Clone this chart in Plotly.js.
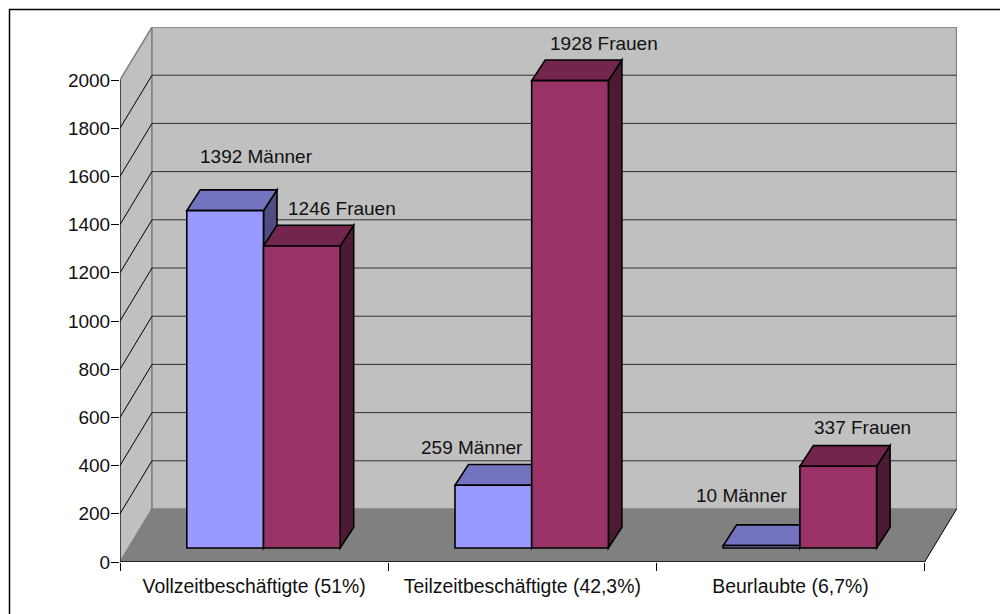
<!DOCTYPE html>
<html><head><meta charset="utf-8">
<script src="https://cdn.plot.ly/plotly-3.0.1.min.js"></script>
<style>html,body{margin:0;padding:0;background:#fff;overflow:hidden}</style></head>
<body><div id="chart" style="width:1000px;height:614px"></div>
<script>
const categories = ["Vollzeitbeschäftigte (51%)", "Teilzeitbeschäftigte (42,3%)", "Beurlaubte (6,7%)"];
const maenner = [1392, 259, 10];
const frauen = [1246, 1928, 337];
const maennerLabel = "Männer";
const frauenLabel = "Frauen";
const yTicks = [0,200,400,600,800,1000,1200,1400,1600,1800,2000];

// view geometry (axis units)
const L=120,R=957,T=27,B=562, unitPx=268.2, yPx=0.241, barYPx=0.2424, barBasePx=548;
const xMax=(R-L)/unitPx, yMax=(B-T)/yPx;
const wallDx=32/unitPx, wallDy=53/yPx;
const barW=76.7/unitPx, barShift=0.035;
const depthX=13.5/unitPx, depthY=20.7/barYPx;
const centers=categories.map((c,i)=>i+0.5);

const blue={front:'#9999ff',top:'#7373bf',side:'#4d4d80'};
const red={front:'#993366',top:'#73264d',side:'#4d1a33'};

const poly=(pts)=>'M'+pts.map(p=>p[0]+','+p[1]).join('L')+'Z';
const shapes=[];
const wallLine={color:'#808080',width:1.5};
// walls and floor
shapes.push({type:'path',xref:'x',yref:'y',layer:'below',fillcolor:'#c0c0c0',line:wallLine,
  path:poly([[0,0],[wallDx,wallDy],[wallDx,2000+wallDy],[0,2000]])});
shapes.push({type:'path',xref:'x',yref:'y',layer:'below',fillcolor:'#c0c0c0',line:wallLine,
  path:poly([[wallDx,wallDy],[3+wallDx,wallDy],[3+wallDx,2000+wallDy],[wallDx,2000+wallDy]])});
shapes.push({type:'path',xref:'x',yref:'y',layer:'below',fillcolor:'#808080',line:{width:0},
  path:poly([[0,0],[3,0],[3+wallDx,wallDy],[wallDx,wallDy]])});
// gridlines
yTicks.slice(1).forEach(v=>{
  if(v!==2000){
    shapes.push({type:'line',xref:'x',yref:'y',layer:'below',x0:wallDx,x1:3+wallDx,y0:v+wallDy,y1:v+wallDy,line:{color:'#303030',width:1}});
    shapes.push({type:'line',xref:'x',yref:'y',layer:'below',x0:0,x1:wallDx,y0:v,y1:v+wallDy,line:{color:'#000',width:1}});
  }
});
// floor outline edges
shapes.push({type:'line',xref:'x',yref:'y',layer:'below',x0:3,x1:3+wallDx,y0:0,y1:wallDy,line:{color:'#000',width:1}});
// axis lines
shapes.push({type:'line',xref:'x',yref:'y',layer:'below',x0:0,x1:0,y0:0,y1:2000,line:{color:'#000',width:1}});
shapes.push({type:'line',xref:'x',yref:'y',layer:'below',x0:0,x1:3,y0:0,y1:0,line:{color:'#000',width:1.3}});

// bar depth faces
const outline={color:'#000',width:1.6};
function faces(vals,x0fn,col){
  vals.forEach((v,i)=>{
    const a=x0fn(i), b=a+barW;
    shapes.push({type:'path',xref:'x',yref:'y2',layer:'below',fillcolor:col.side,line:outline,
      path:poly([[b,0],[b+depthX,depthY],[b+depthX,v+depthY],[b,v]])});
    shapes.push({type:'path',xref:'x',yref:'y2',layer:'below',fillcolor:col.top,line:outline,
      path:poly([[a,v],[b,v],[b+depthX,v+depthY],[a+depthX,v+depthY]])});
  });
}
faces(maenner,i=>centers[i]+barShift-barW,blue);
faces(frauen,i=>centers[i]+barShift,red);

// chart frame (right and bottom edges fall outside the picture)
const px=x=>(x-L)/(R-L), py=y=>(B-y)/(B-T);
shapes.push({type:'rect',xref:'paper',yref:'paper',layer:'above',x0:px(9.5),x1:px(1010),y0:py(9.5),y1:py(630),line:{color:'#000',width:1.5},fillcolor:'rgba(0,0,0,0)'});

const traces=[
 {type:'bar',name:maennerLabel,x:centers.map(c=>c+barShift-barW/2),y:maenner,width:barW,yaxis:'y2',
  marker:{color:blue.front,line:{color:'#000',width:1.6}},hoverinfo:'skip'},
 {type:'bar',name:frauenLabel,x:centers.map(c=>c+barShift+barW/2),y:frauen,width:barW,yaxis:'y2',
  marker:{color:red.front,line:{color:'#000',width:1.6}},hoverinfo:'skip'}
];

const font={family:'"Liberation Sans",Arial,sans-serif',size:19,color:'#111'};
const xFont={family:font.family,size:19.4,color:'#111'};
const mShift=[[31,54],[-21,38],[-20,50]], fShift=[[40,37.5],[34,37],[24,39]];
const annotations=[];
maenner.forEach((v,i)=>annotations.push({xref:'x',yref:'y2',x:centers[i]+barShift-barW/2,y:v,text:v+' '+maennerLabel,showarrow:false,xshift:mShift[i][0],yshift:mShift[i][1],font,xanchor:'center',yanchor:'middle'}));
frauen.forEach((v,i)=>annotations.push({xref:'x',yref:'y2',x:centers[i]+barShift+barW/2,y:v,text:v+' '+frauenLabel,showarrow:false,xshift:fShift[i][0],yshift:fShift[i][1],font,xanchor:'center',yanchor:'middle'}));

const layout={
 width:1000,height:614,autosize:false,showlegend:false,barmode:'overlay',
 paper_bgcolor:'#fff',plot_bgcolor:'rgba(0,0,0,0)',font,
 margin:{l:L,r:1000-R,t:T,b:614-B,pad:0},
 xaxis:{range:[0,xMax],tickmode:'array',tickvals:centers,ticktext:categories,ticks:'',showgrid:false,zeroline:false,showline:false,tickfont:xFont,ticklabelstandoff:11,
   minor:{tickmode:'array',tickvals:[0,1,2,3],ticks:'outside',ticklen:8,tickcolor:'#000',tickwidth:1,showgrid:false}},
 yaxis:{range:[0,yMax],tickmode:'array',tickvals:yTicks,ticks:'outside',ticklen:8,tickcolor:'#000',tickwidth:1,showgrid:false,zeroline:false,showline:false,tickfont:font,ticklabelstandoff:-3},
 yaxis2:{overlaying:'y',side:'left',range:[-(B-barBasePx)/barYPx,(barBasePx-T)/barYPx],visible:false,showgrid:false,zeroline:false},
 shapes,annotations
};
Plotly.newPlot('chart',traces,layout,{displayModeBar:false,staticPlot:true});
</script></body></html>
